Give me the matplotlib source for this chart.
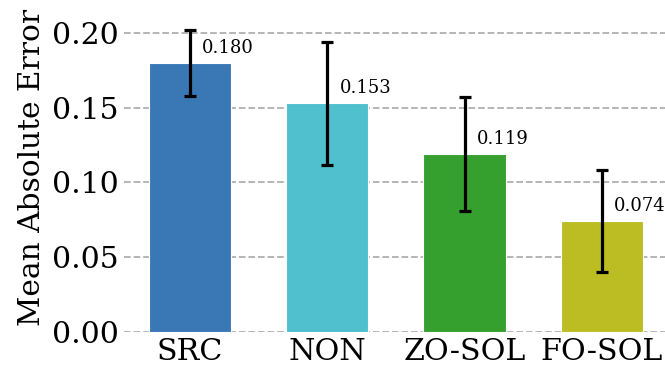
import numpy as np
import matplotlib.pyplot as plt

methods = ["SRC", "NON", "ZO-SOL", "FO-SOL"]
mae = [0.180, 0.153, 0.119, 0.074]
err = [0.022, 0.041, 0.038, 0.034]
colors = ["#3a78b5", "#50bfce", "#35a02e", "#bcbd22"]

plt.rcParams['font.family'] = 'DejaVu Serif'

fig = plt.figure(figsize=(6.65, 3.65), dpi=100)
ax = fig.add_axes([0.1865, (365 - 332) / 365, 0.822, 329 / 365])

x = np.arange(len(methods))
ax.bar(x, mae, width=0.6, color=colors, edgecolor="white", linewidth=0.8, zorder=2)
ax.errorbar(x, mae, yerr=err, fmt="none", ecolor="black", elinewidth=2.3,
            capsize=4.3, capthick=2.3, zorder=3)

for xi, v in zip(x, mae):
    ax.text(xi + 0.09, v + 0.01, f"{v:.3f}", ha="left", va="center", fontsize=13)

ax.set_xlim(-0.48, 3.5)
ax.set_ylim(0, 0.22)
ax.set_yticks([0, 0.05, 0.10, 0.15, 0.20])
ax.set_yticklabels([f"{t:.2f}" for t in [0, 0.05, 0.10, 0.15, 0.20]])
ax.set_xticks(x)
ax.set_xticklabels(methods)
ax.tick_params(axis="y", labelsize=21.5, length=0, pad=4)
ax.tick_params(axis="x", labelsize=21.7, length=0, pad=4)
ax.set_ylabel("Mean Absolute Error", fontsize=21.3)

ax.yaxis.grid(True, linestyle="--", color="#b0b0b0", linewidth=1.3, zorder=0)
ax.set_axisbelow(True)
for s in ax.spines.values():
    s.set_visible(False)

fig.savefig("out.png", dpi=100)
